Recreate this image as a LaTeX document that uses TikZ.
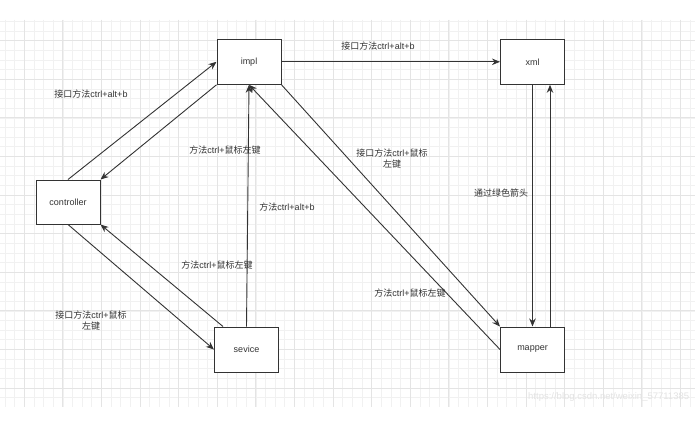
\documentclass[tikz,border=0pt]{standalone}
\usepackage{fontspec}
\setmainfont{Liberation Sans}
\newfontfamily\cjk{Noto Sans CJK SC}
\usetikzlibrary{arrows.meta}
\definecolor{ink}{HTML}{333333}
\definecolor{gridminor}{HTML}{F1F1F1}
\definecolor{gridmajor}{HTML}{E4E4E4}
\tikzset{
  box/.style={draw=ink, line width=1pt, fill=white, minimum width=64pt, minimum height=45pt, inner sep=0pt, text=ink, font=\fontsize{9}{11}\selectfont},
  arr/.style={draw=ink, line width=0.9pt, -{Stealth[length=8pt,width=6.5pt]}},
  lbl/.style={text=ink, inner sep=0pt, align=center, font=\fontsize{9}{11}\selectfont},
  minorline/.style={draw=gridminor, line width=0.8pt},
  majorline/.style={draw=gridmajor, line width=0.9pt},
}
\begin{document}
\begin{tikzpicture}[x=1pt,y=-1pt]
\useasboundingbox (0,0) rectangle (695,436);
\fill[white] (0,0) rectangle (695,436);
% grid
\begin{scope}
\clip (0,20) rectangle (695,407);
\foreach \i in {0,...,71} {\draw[minorline] ({5+9.65*\i},20) -- ({5+9.65*\i},407);}
\foreach \j in {0,...,39} {\draw[minorline] (0,{21.4+9.65*\j}) -- (695,{21.4+9.65*\j});}
\foreach \i in {0,...,17} {\draw[majorline] ({24.3+38.6*\i},20) -- ({24.3+38.6*\i},407);}
\foreach \j in {0,...,9} {\draw[majorline] (0,{40.7+38.6*\j}) -- (695,{40.7+38.6*\j});}
\end{scope}
% watermark
\node[anchor=west, inner sep=0pt, text=black!11, font=\fontsize{9.5}{11}\selectfont] (wm) at (528,397) {https://blog.csdn.net/weixin\_57711385};
% boxes
\node[box] (impl) at (249,61.8) {impl};
\node[box] (xml) at (532.5,61.8) {xml};
\node[box, minimum height=44pt] (controller) at (68,202) {controller};
\node[box] (sevice) at (246.5,349.5) {sevice};
\node[box] (mapper) at (532.5,349.5) {mapper};
% connectors
\draw[arr] (controller.north) -- (impl.west);
\draw[arr] (impl.south west) -- (controller.north east);
\draw[arr] (impl.east) -- (xml.west);
\draw[arr] (xml.south) -- (mapper.north);
\draw[arr] ([xshift=17.5pt]mapper.north) -- ([xshift=17.5pt]xml.south);
\draw[arr] (impl.south east) -- (mapper.north west);
\draw[arr] (mapper.west) -- (impl.south);
\draw[arr] (sevice.north) -- (impl.south);
\draw[arr] (controller.south) -- (sevice.west);
\draw[arr] ([xshift=9pt]sevice.north west) -- (controller.south east);
% labels
\node[lbl] (l1) at (91,94) {{\cjk 接口方法}ctrl+alt+b};
\node[lbl] (l2) at (378,46) {{\cjk 接口方法}ctrl+alt+b};
\node[lbl] (l3) at (225,150) {{\cjk 方法}ctrl+{\cjk 鼠标左键}};
\node[lbl] (l4) at (287,207) {{\cjk 方法}ctrl+alt+b};
\node[lbl] (l5) at (217,265) {{\cjk 方法}ctrl+{\cjk 鼠标左键}};
\node[lbl] (l6) at (91,321) {{\cjk 接口方法}ctrl+{\cjk 鼠标}\\{\cjk 左键}};
\node[lbl] (l7) at (392,158.5) {{\cjk 接口方法}ctrl+{\cjk 鼠标}\\{\cjk 左键}};
\node[lbl] (l8) at (501,193) {{\cjk 通过绿色箭头}};
\node[lbl] (l9) at (410,293) {{\cjk 方法}ctrl+{\cjk 鼠标左键}};
\end{tikzpicture}
\end{document}
